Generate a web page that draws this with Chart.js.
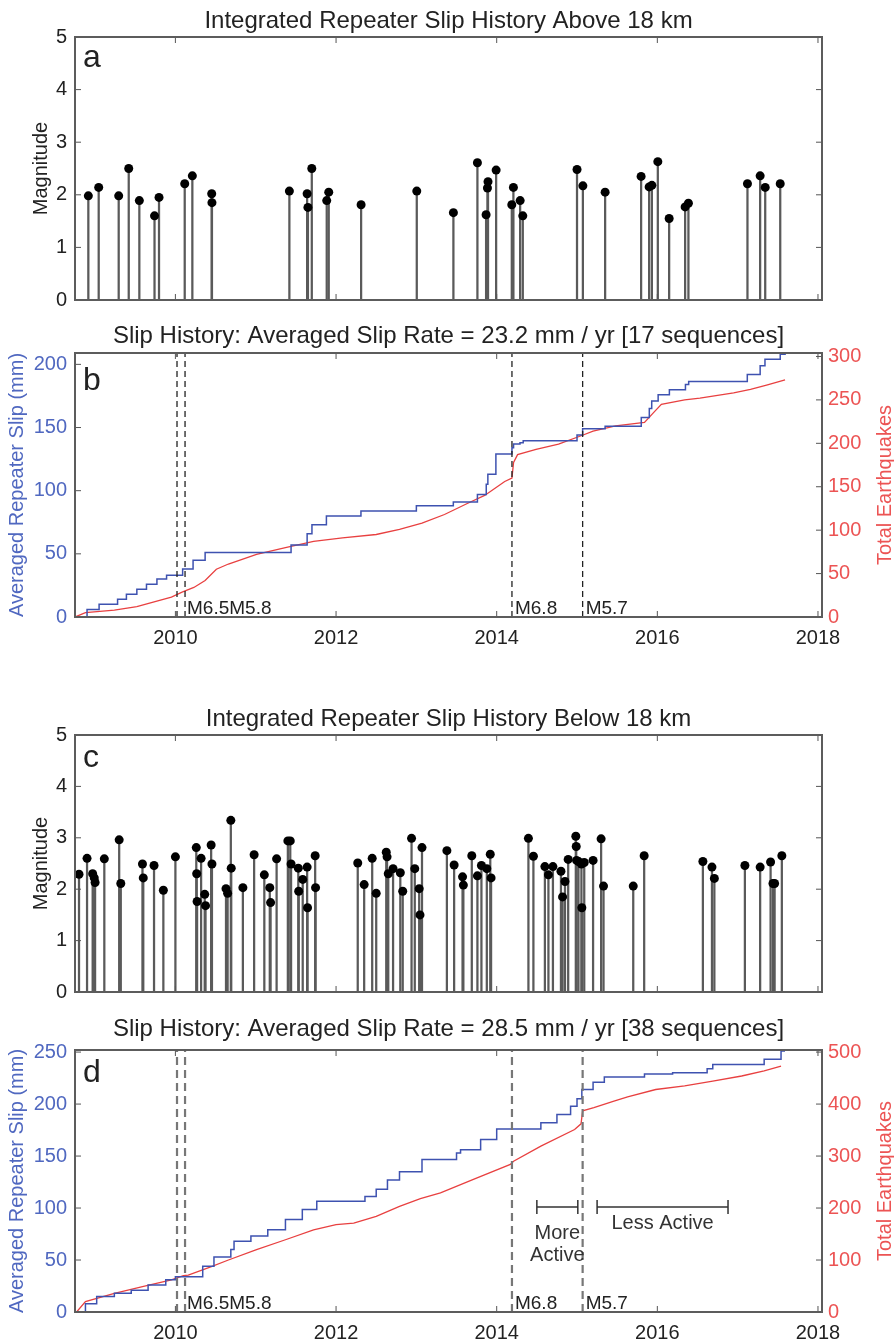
<!DOCTYPE html>
<html>
<head>
<meta charset="utf-8">
<script src="https://cdn.jsdelivr.net/npm/chart.js@4.4.1/dist/chart.umd.min.js"></script>
<style>
body { margin: 0; background: #fff; width: 894px; height: 1342px; position: relative; overflow: hidden; }
canvas { position: absolute; left: 0; }
</style>
</head>
<body>
<canvas id="chartA" width="894" height="320" style="top:0px"></canvas>
<canvas id="chartB" width="894" height="340" style="top:320px"></canvas>
<canvas id="chartC" width="894" height="352" style="top:660px"></canvas>
<canvas id="chartD" width="894" height="337" style="top:1005px"></canvas>
<script>
// ---- data ----
var xTicks = [2010, 2012, 2014, 2016, 2018];
var magTicks = [0, 1, 2, 3, 4, 5];

// panel a: repeaters above 18 km (decimal year, magnitude)
var aboveYears = [2008.916, 2009.045, 2009.294, 2009.419, 2009.551, 2009.740, 2009.796, 2010.116, 2010.211, 2010.452,
  2010.455, 2011.419, 2011.640, 2011.650, 2011.698, 2011.884, 2011.909, 2012.312, 2013.005, 2013.461,
  2013.760, 2013.868, 2013.885, 2013.892, 2013.993, 2014.188, 2014.208, 2014.292, 2014.325, 2015.000,
  2015.073, 2015.350, 2015.798, 2015.898, 2015.932, 2016.006, 2016.147, 2016.346, 2016.387, 2017.122,
  2017.280, 2017.343, 2017.530];
var aboveMags = [1.98, 2.14, 1.98, 2.50, 1.89, 1.60, 1.95, 2.21, 2.36, 2.02,
  1.85, 2.07, 2.02, 1.76, 2.50, 1.89, 2.05, 1.81, 2.07, 1.66,
  2.61, 1.62, 2.13, 2.25, 2.47, 1.81, 2.14, 1.89, 1.60, 2.48,
  2.17, 2.05, 2.35, 2.15, 2.18, 2.63, 1.55, 1.77, 1.84, 2.21,
  2.36, 2.14, 2.21];

// panel c: repeaters below 18 km
var belowYears = [2008.80, 2008.90, 2008.97, 2008.99, 2009.00, 2009.115, 2009.30, 2009.32, 2009.59, 2009.60,
  2009.734, 2009.85, 2010.00, 2010.26, 2010.265, 2010.27, 2010.32, 2010.365, 2010.375, 2010.445,
  2010.455, 2010.63, 2010.65, 2010.69, 2010.695, 2010.84, 2010.98, 2011.107, 2011.175, 2011.185,
  2011.26, 2011.40, 2011.43, 2011.44, 2011.53, 2011.535, 2011.585, 2011.64, 2011.645, 2011.74,
  2011.745, 2012.27, 2012.35, 2012.45, 2012.50, 2012.625, 2012.635, 2012.65, 2012.71, 2012.80,
  2012.83, 2012.94, 2012.98, 2013.035, 2013.045, 2013.07, 2013.38, 2013.47, 2013.575, 2013.585,
  2013.69, 2013.76, 2013.81, 2013.877, 2013.92, 2013.93, 2014.395, 2014.457, 2014.60, 2014.644,
  2014.70, 2014.80, 2014.82, 2014.85, 2014.89, 2014.985, 2014.99, 2014.995, 2015.018, 2015.055,
  2015.06, 2015.09, 2015.20, 2015.30, 2015.33, 2015.70, 2015.836, 2016.567, 2016.68, 2016.71,
  2017.09, 2017.28, 2017.41, 2017.44, 2017.46, 2017.55];
var belowMags = [2.29, 2.60, 2.30, 2.22, 2.13, 2.59, 2.96, 2.11, 2.49, 2.22,
  2.46, 1.98, 2.63, 2.81, 2.30, 1.76, 2.60, 1.90, 1.68, 2.86,
  2.49, 2.01, 1.92, 3.34, 2.41, 2.03, 2.67, 2.28, 2.03, 1.74,
  2.59, 2.94, 2.94, 2.49, 2.41, 1.96, 2.19, 2.43, 1.64, 2.65,
  2.03, 2.51, 2.09, 2.60, 1.92, 2.72, 2.63, 2.30, 2.40, 2.32,
  1.96, 2.99, 2.40, 2.01, 1.50, 2.81, 2.75, 2.47, 2.24, 2.08,
  2.65, 2.26, 2.46, 2.40, 2.68, 2.22, 2.99, 2.64, 2.44, 2.28,
  2.44, 2.35, 1.85, 2.15, 2.58, 3.03, 2.83, 2.56, 2.54, 2.49,
  1.64, 2.52, 2.56, 2.98, 2.06, 2.06, 2.65, 2.54, 2.43, 2.21,
  2.46, 2.43, 2.53, 2.11, 2.11, 2.65];

// panel b: averaged slip (mm) and total earthquakes, above 18 km
var slipAboveYears = [2008.75, 2008.90, 2009.05, 2009.28, 2009.39, 2009.52, 2009.64, 2009.77, 2009.89, 2010.09,
  2010.22, 2010.37, 2011.44, 2011.64, 2011.70, 2011.88, 2012.31, 2013.00, 2013.46, 2013.76,
  2013.87, 2013.89, 2013.99, 2014.19, 2014.21, 2014.29, 2014.33, 2015.00, 2015.07, 2015.35,
  2015.80, 2015.90, 2015.93, 2016.01, 2016.15, 2016.35, 2016.39, 2017.12, 2017.28, 2017.34,
  2017.53, 2017.60];
var slipAboveMm = [0, 6, 10, 14, 18, 22, 26, 30, 33, 38,
  45, 51, 57, 66, 73, 80, 84, 88, 91, 97,
  105, 113, 129, 134, 137, 138, 139.5, 144, 149, 151,
  158, 165, 171, 176, 180, 184, 186.5, 192, 199, 204,
  208, 208];
var countAboveYears = [2008.75, 2008.88, 2009.24, 2009.52, 2009.95, 2010.09, 2010.23, 2010.37, 2010.51, 2010.66,
  2011.01, 2011.37, 2011.72, 2012.08, 2012.50, 2012.79, 2013.07, 2013.35, 2013.64, 2013.85,
  2014.10, 2014.19, 2014.21, 2014.26, 2014.49, 2014.77, 2015.06, 2015.20, 2015.48, 2015.84,
  2015.95, 2016.05, 2016.34, 2016.53, 2016.95, 2017.16, 2017.36, 2017.59];
var countAbove = [0, 5, 8, 12, 23, 29, 34, 42, 55, 61,
  72, 80, 87, 91, 95, 101, 108, 118, 131, 140,
  156, 160, 178, 187, 193, 199, 209, 214, 220, 224,
  235, 245, 250, 252, 258, 262, 267, 273];

// panel d: averaged slip (mm) and total earthquakes, below 18 km
var slipBelowYears = [2008.77, 2008.88, 2009.02, 2009.24, 2009.45, 2009.66, 2009.88, 2010.00, 2010.34, 2010.48,
  2010.69, 2010.73, 2010.94, 2011.15, 2011.37, 2011.58, 2011.76, 2012.36, 2012.50, 2012.64,
  2012.79, 2013.07, 2013.50, 2013.55, 2013.80, 2014.00, 2014.55, 2014.75, 2014.92, 2015.00,
  2015.06, 2015.20, 2015.34, 2015.84, 2016.19, 2016.62, 2016.69, 2017.33, 2017.54, 2017.58];
var slipBelowMm = [0, 8, 15, 18, 21, 26, 31, 34, 44, 53,
  60, 68, 73, 79, 89, 98.5, 106.5, 111, 118, 127,
  135, 146.7, 153, 156, 166, 176, 182, 190, 198, 205,
  214, 221, 226, 229, 230, 234, 238, 243, 251, 252];
var countBelowYears = [2008.77, 2008.88, 2009.24, 2009.59, 2009.95, 2010.10, 2010.16, 2010.44, 2010.66, 2011.01,
  2011.37, 2011.72, 2012.00, 2012.22, 2012.50, 2012.79, 2013.05, 2013.30, 2013.71, 2014.17,
  2014.21, 2014.55, 2014.97, 2015.05, 2015.07, 2015.21, 2015.45, 2015.63, 2015.98, 2016.34,
  2016.69, 2017.05, 2017.33, 2017.54];
var countBelow = [0, 20, 36, 49, 62, 70, 71, 87, 100, 120,
  139, 158, 168, 171, 184, 203, 218, 229, 255, 284,
  290, 319, 351, 362, 387, 393, 405, 414, 428, 435,
  444, 454, 464, 473];

// main shocks drawn as dashed lines
var quakeYears = [2010.02, 2010.12, 2014.19, 2015.07];
var quakeLabels = ['M6.5', 'M5.8', 'M6.8', 'M5.7'];

// activity brackets in panel d
var activityNames = [['More', 'Active'], ['Less Active']];
var activityStart = [2014.50, 2015.25];
var activityEnd = [2015.01, 2016.88];

var slipTicksB = [0, 50, 100, 150, 200];
var countTicksB = [0, 50, 100, 150, 200, 250, 300];
var slipTicksD = [0, 50, 100, 150, 200, 250];
var countTicksD = [0, 100, 200, 300, 400, 500];

// ---- styles ----
var FONT = '"Liberation Sans", Arial, Helvetica, sans-serif';
var INK = '#222';
var BLUE = 'rgb(62, 82, 176)';
var BLUE_TEXT = 'rgb(80, 104, 192)';
var RED = 'rgb(232, 64, 64)';
var RED_TEXT = 'rgb(236, 84, 84)';
var X_MIN = 2008.75, X_MAX = 2018.05;

Chart.defaults.font.family = FONT;
Chart.defaults.animation = false;
Chart.defaults.plugins.legend.display = false;
Chart.defaults.plugins.tooltip.enabled = false;

function useTicks(values) {
  return function (scale) {
    scale.ticks = values.map(function (v) { return { value: v }; });
  };
}

function pairs(xs, ys) {
  return xs.map(function (t, i) { return { x: t, y: ys[i] }; });
}

var framePlugin = {
  id: 'frame',
  afterDraw: function (chart, args, o) {
    var ctx = chart.ctx, a = chart.chartArea;
    var x = chart.scales.x, y = chart.scales.y, y2 = chart.scales.y2;
    ctx.save();

    // MATLAB style inner ticks
    ctx.strokeStyle = '#555';
    ctx.lineWidth = 1;
    ctx.beginPath();
    x.ticks.forEach(function (t) {
      var px = x.getPixelForValue(t.value);
      ctx.moveTo(px, a.bottom); ctx.lineTo(px, a.bottom - 6);
      ctx.moveTo(px, a.top); ctx.lineTo(px, a.top + 6);
    });
    y.ticks.forEach(function (t) {
      var py = y.getPixelForValue(t.value);
      ctx.moveTo(a.left, py); ctx.lineTo(a.left + 6, py);
      if (!y2) { ctx.moveTo(a.right, py); ctx.lineTo(a.right - 6, py); }
    });
    if (y2) {
      y2.ticks.forEach(function (t) {
        var py = y2.getPixelForValue(t.value);
        ctx.moveTo(a.right, py); ctx.lineTo(a.right - 6, py);
      });
    }
    ctx.stroke();

    // box
    ctx.strokeStyle = '#5c5c5c';
    ctx.lineWidth = 2;
    ctx.strokeRect(a.left, a.top, a.right - a.left, a.bottom - a.top);

    // title
    ctx.fillStyle = INK;
    ctx.font = '24px ' + FONT;
    ctx.textAlign = 'center';
    ctx.textBaseline = 'alphabetic';
    ctx.fillText(o.title, (a.left + a.right) / 2, o.titleY);

    // panel letter
    ctx.font = '32px ' + FONT;
    ctx.textAlign = 'left';
    ctx.fillText(o.letter, a.left + 8, o.letterY);

    // axis titles
    ctx.font = '20px ' + FONT;
    ctx.textAlign = 'center';
    ctx.textBaseline = 'middle';
    var midY = (a.top + a.bottom) / 2;
    ctx.save();
    ctx.translate(o.leftTitleX, midY);
    ctx.rotate(-Math.PI / 2);
    ctx.fillStyle = o.leftColor;
    ctx.fillText(o.leftTitle, 0, 0);
    ctx.restore();
    if (o.rightTitle) {
      ctx.save();
      ctx.translate(885, midY);
      ctx.rotate(-Math.PI / 2);
      ctx.fillStyle = RED_TEXT;
      ctx.fillText(o.rightTitle, 0, 0);
      ctx.restore();
    }

    // main shock labels, pushed right of a close neighbouring line
    if (o.quakes) {
      ctx.font = '19px ' + FONT;
      ctx.fillStyle = INK;
      ctx.textAlign = 'left';
      ctx.textBaseline = 'alphabetic';
      var end = 0;
      quakeYears.forEach(function (t, i) {
        var px = Math.max(x.getPixelForValue(t) + 3, end);
        if (i + 1 < quakeYears.length) {
          var nx = x.getPixelForValue(quakeYears[i + 1]);
          if (nx - px < 12 && nx + 2 > px) px = nx + 2;
        }
        ctx.fillText(quakeLabels[i], px, a.bottom - 3);
        end = px + ctx.measureText(quakeLabels[i]).width;
      });
    }

    // activity brackets
    if (o.notes) {
      var py = y.getPixelForValue(o.noteLevel);
      ctx.strokeStyle = '#333';
      ctx.lineWidth = 1.5;
      ctx.fillStyle = '#333';
      ctx.font = '20px ' + FONT;
      ctx.textAlign = 'center';
      ctx.textBaseline = 'middle';
      activityStart.forEach(function (t0, i) {
        var p0 = x.getPixelForValue(t0), p1 = x.getPixelForValue(activityEnd[i]);
        ctx.beginPath();
        ctx.moveTo(p0, py); ctx.lineTo(p1, py);
        ctx.moveTo(p0, py - 7); ctx.lineTo(p0, py + 7);
        ctx.moveTo(p1, py - 7); ctx.lineTo(p1, py + 7);
        ctx.stroke();
        var lines = activityNames[i];
        var first = lines.length > 1 ? 26 : 16;
        lines.forEach(function (s, k) {
          ctx.fillText(s, (p0 + p1) / 2, py + first + k * 22);
        });
      });
    }
    ctx.restore();
  }
};

function xScale(height, showLabels) {
  return {
    type: 'linear', min: X_MIN, max: X_MAX, offset: false,
    grid: { display: false, drawTicks: false, offset: false },
    border: { display: false },
    ticks: { display: showLabels, font: { size: 20 }, color: INK, padding: 9, maxRotation: 0,
      autoSkip: false, callback: function (v) { return String(v); } },
    afterBuildTicks: useTicks(xTicks),
    afterFit: function (s) { s.height = height; }
  };
}

function yScale(max, ticks, color, position, width, pad) {
  return {
    type: 'linear', position: position, min: 0, max: max,
    grid: { display: false, drawTicks: false },
    border: { display: false },
    ticks: { font: { size: 20 }, color: color, padding: pad, callback: function (v) { return String(v); } },
    afterBuildTicks: useTicks(ticks),
    afterFit: function (s) { s.width = width; }
  };
}

function stemChart(id, years, mags, top, xHeight, frame) {
  var pts = pairs(years, mags);
  return new Chart(document.getElementById(id), {
    type: 'bar',
    data: {
      datasets: [
        { type: 'scatter', data: pts, pointRadius: 4.5, pointBackgroundColor: '#000',
          pointBorderWidth: 0, order: 0 },
        { type: 'bar', data: pts, backgroundColor: '#5a5a5a', barThickness: 1.6, order: 1 }
      ]
    },
    options: {
      responsive: false, devicePixelRatio: 1,
      layout: { padding: { top: top, right: 72, left: 0, bottom: 0 } },
      scales: {
        x: xScale(xHeight, false),
        y: yScale(5, magTicks, INK, 'left', 75, 8)
      },
      plugins: { frame: frame }
    },
    plugins: [framePlugin]
  });
}

function slipChart(id, slipT, slipV, countT, countV, yMax, y2Max, yTicks, y2Ticks, top, xHeight, dash, frame) {
  var sets = [
    { data: pairs(countT, countV), yAxisID: 'y2', borderColor: RED, borderWidth: 1.3,
      pointRadius: 0, tension: 0, order: 2 },
    { data: pairs(slipT, slipV), yAxisID: 'y', borderColor: BLUE, borderWidth: 1.5,
      pointRadius: 0, stepped: 'before', order: 1 }
  ];
  quakeYears.forEach(function (t) {
    sets.push({ data: [{ x: t, y: 0 }, { x: t, y: yMax }], yAxisID: 'y', borderColor: dash.color,
      borderWidth: dash.width, borderDash: dash.pattern, pointRadius: 0, order: 0 });
  });
  return new Chart(document.getElementById(id), {
    type: 'line',
    data: { datasets: sets },
    options: {
      responsive: false, devicePixelRatio: 1,
      layout: { padding: { top: top, right: 0, left: 0, bottom: 0 } },
      scales: {
        x: xScale(xHeight, true),
        y: yScale(yMax, yTicks, BLUE_TEXT, 'left', 75, 8),
        y2: yScale(y2Max, y2Ticks, RED_TEXT, 'right', 72, 6)
      },
      plugins: { frame: frame }
    },
    plugins: [framePlugin]
  });
}

stemChart('chartA', aboveYears, aboveMags, 37, 20, {
  title: 'Integrated Repeater Slip History Above 18 km', titleY: 28,
  letter: 'a', letterY: 67, leftTitle: 'Magnitude', leftTitleX: 41, leftColor: INK
});

slipChart('chartB', slipAboveYears, slipAboveMm, countAboveYears, countAbove,
  209, 304, slipTicksB, countTicksB, 33, 43,
  { color: '#222', width: 1.3, pattern: [6, 4] }, {
  title: 'Slip History: Averaged Slip Rate = 23.2 mm / yr [17 sequences]', titleY: 23,
  letter: 'b', letterY: 70, leftTitle: 'Averaged Repeater Slip (mm)', leftTitleX: 17,
  leftColor: BLUE_TEXT, rightTitle: 'Total Earthquakes', quakes: true
});

stemChart('chartC', belowYears, belowMags, 75, 14, {
  title: 'Integrated Repeater Slip History Below 18 km', titleY: 66,
  letter: 'c', letterY: 107, leftTitle: 'Magnitude', leftTitleX: 41, leftColor: INK
});

slipChart('chartD', slipBelowYears, slipBelowMm, countBelowYears, countBelow,
  252, 504, slipTicksD, countTicksD, 45, 30,
  { color: '#777', width: 2.2, pattern: [8, 5] }, {
  title: 'Slip History: Averaged Slip Rate = 28.5 mm / yr [38 sequences]', titleY: 31,
  letter: 'd', letterY: 77, leftTitle: 'Averaged Repeater Slip (mm)', leftTitleX: 17,
  leftColor: BLUE_TEXT, rightTitle: 'Total Earthquakes', quakes: true,
  notes: true, noteLevel: 101
});
</script>
</body>
</html>
